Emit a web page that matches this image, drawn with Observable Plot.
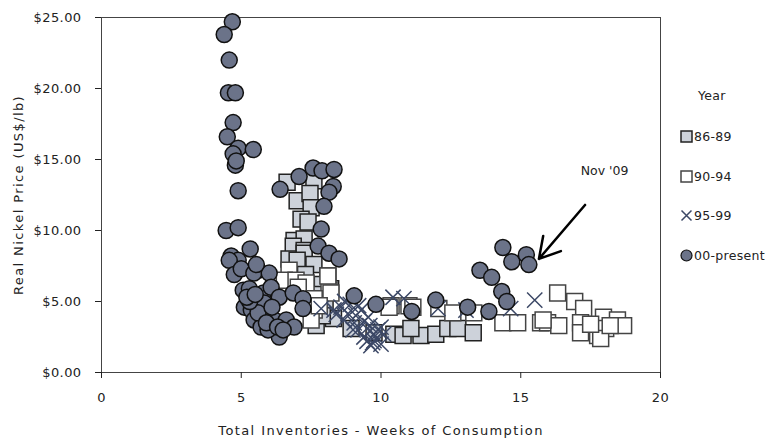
<!DOCTYPE html>
<html><head><meta charset="utf-8">
<script src="https://cdn.jsdelivr.net/npm/d3@7"></script>
<script src="https://cdn.jsdelivr.net/npm/@observablehq/plot@0.6"></script>
<style>
body{margin:0;background:#fff;}
#wrap{position:relative;width:780px;height:442px;font-family:"DejaVu Sans",sans-serif;}
#legend{position:absolute;left:0;top:0;width:780px;height:442px;pointer-events:none;font-size:12.5px;color:#222;letter-spacing:0.3px;}
.li{position:absolute;display:flex;align-items:center;white-space:nowrap;}
svg [aria-label="x-axis label"] text, svg [aria-label="y-axis label"] text{letter-spacing:1.4px;}
svg [aria-label="x-axis tick label"] text, svg [aria-label="y-axis tick label"] text{letter-spacing:0.4px;}
</style></head><body>
<div id="wrap"><div id="chart"></div><div id="legend"></div></div>
<script>
// ---- data ----
const xTicks = [0, 5, 10, 15, 20];
const yTicks = [0, 5, 10, 15, 20, 25];
const xLabel = "Total Inventories - Weeks of Consumption";
const yLabel = "Real Nickel Price (US$/lb)";
const legendTitle = "Year";
const seriesNames = ["86-89", "90-94", "95-99", "00-present"];

const s8689 = [[6.64,13.4],[7.6,13.5],[7.0,12.1],[7.46,12.6],[7.5,11.6],[7.14,10.8],[7.39,10.6],[6.89,9.3],[7.25,9.4],[6.86,8.9],[7.25,8.6],[6.71,8.0],[7.25,8.4],[7.0,7.9],[7.6,7.6],[8.1,6.8],[7.9,6.2],[7.3,6.9],[8.2,5.9],[7.7,5.5],[8.0,5.0],[7.68,3.3],[8.93,3.1],[9.75,2.8],[10.46,2.7],[10.79,2.6],[11.43,2.6],[11.07,3.1],[11.96,2.7],[12.39,3.1],[12.75,3.1],[13.3,2.8],[8.3,3.8],[7.9,4.0]];
const s9094 = [[6.71,7.2],[6.54,6.5],[6.96,6.5],[7.32,6.3],[7.04,6.0],[8.14,5.8],[8.21,5.6],[7.61,5.2],[7.61,4.4],[7.5,3.7],[7.79,4.7],[8.1,6.8],[10.36,4.7],[11.0,4.7],[10.29,4.6],[11.14,4.6],[12.07,4.5],[12.57,4.2],[13.32,4.2],[14.36,3.5],[14.89,3.5],[15.71,3.5],[15.96,3.5],[16.36,3.3],[16.32,5.6],[16.93,5.0],[17.25,4.5],[17.14,3.5],[17.14,2.8],[17.75,2.6],[17.96,3.9],[18.04,3.1],[18.46,3.7],[18.68,3.3],[17.86,2.4],[15.8,3.7],[17.5,3.4],[18.2,3.3]];
const s9599 = [[7.86,4.5],[8.32,4.4],[8.57,4.6],[8.82,4.15],[9.29,4.4],[8.68,3.7],[9.04,3.5],[9.54,3.9],[9.39,2.5],[9.75,2.25],[10.0,2.0],[9.64,1.9],[9.89,3.0],[10.1,2.7],[9.18,3.0],[8.9,4.8],[9.1,4.0],[9.6,3.3],[9.4,3.6],[9.8,2.6],[9.6,2.9],[8.4,4.1],[9.2,4.7],[10.0,3.2],[9.7,2.1],[10.43,5.3],[10.82,5.2],[12.04,4.5],[13.04,4.4],[14.64,4.5],[15.5,5.1],[8.7,5.0],[9.0,3.0],[9.5,2.2]];
const s00 = [[4.68,24.7],[4.39,23.8],[4.57,22.0],[4.54,19.7],[4.79,19.7],[4.71,17.6],[4.50,16.6],[4.89,15.8],[4.71,15.4],[5.43,15.7],[4.79,14.6],[4.82,14.9],[4.89,12.8],[4.46,10.0],[4.89,10.2],[6.39,12.9],[7.07,13.8],[7.57,14.4],[7.89,14.2],[8.32,14.3],[8.29,13.1],[8.14,12.7],[7.96,11.7],[7.86,10.1],[7.75,8.9],[8.14,8.4],[8.50,8.0],[4.64,8.2],[5.32,8.7],[4.89,7.9],[4.57,7.9],[4.75,6.9],[5.00,7.3],[5.60,7.2],[5.45,7.0],[6.00,7.0],[5.54,7.6],[5.07,5.8],[5.29,5.9],[5.79,5.6],[6.07,6.0],[6.36,5.3],[6.86,5.6],[7.21,5.2],[7.21,4.5],[5.11,4.6],[5.36,4.4],[5.82,4.9],[6.0,4.15],[5.46,3.7],[5.71,3.2],[6.18,3.7],[6.61,3.7],[6.89,3.2],[6.36,2.5],[5.96,3.0],[5.6,4.2],[5.3,5.0],[5.9,3.5],[6.3,3.2],[5.2,5.3],[5.5,5.5],[6.1,4.6],[6.5,3.0],[9.04,5.4],[9.82,4.8],[11.1,4.3],[11.96,5.1],[13.1,4.6],[13.86,4.3],[14.36,8.8],[14.68,7.8],[15.2,8.3],[15.29,7.6],[13.54,7.2],[13.96,6.7],[14.32,5.7],[14.5,5.0]];

const noteText = "Nov '09";
const notePos = [[18.0, 14.2]];
const arrowSeg = [{x1: 17.3, y1: 11.8, x2: 15.65, y2: 8.0}];

// ---- styles ----
const styles = [
  {symbol:"square", fill:"#cdd2da", stroke:"#222", r:9, sw:1.5},
  {symbol:"square", fill:"#ffffff", stroke:"#444", r:9, sw:1.5},
  {symbol:"times", fill:"none", stroke:"#3c4866", r:7, sw:1.5},
  {symbol:"circle", fill:"#6b7389", stroke:"#111", r:8, sw:1.5}
];
const seriesData = [s8689, s9094, s9599, s00];

const chart = Plot.plot({
  width: 780, height: 442,
  marginLeft: 101, marginRight: 120, marginTop: 17, marginBottom: 70,
  x: {domain: [0, 20]},
  y: {domain: [0, 25]},
  style: {fontFamily: "DejaVu Sans, sans-serif", fontSize: "13px", color: "#222", background: "white"},
  marks: [
    Plot.frame({stroke: "#444"}),
    Plot.axisX({ticks: xTicks, tickSize: 6, tickPadding: 14, label: xLabel, labelAnchor: "center", labelArrow: "none", labelOffset: 62, tickFormat: d => String(d)}),
    Plot.axisY({ticks: yTicks, tickSize: 6, tickPadding: 14, tickFormat: d => "$" + d.toFixed(2), label: yLabel, labelAnchor: "center", labelArrow: "none", labelOffset: 88}),
    ...seriesData.map((data, i) => Plot.dot(data, {
      x: d => d[0], y: d => d[1], symbol: () => styles[i].symbol, r: styles[i].r,
      fill: styles[i].fill, stroke: styles[i].stroke, strokeWidth: styles[i].sw, fillOpacity: 1
    })),
    Plot.arrow(arrowSeg, {x1: "x1", y1: "y1", x2: "x2", y2: "y2", stroke: "black", strokeWidth: 2.5, headLength: 14}),
    Plot.text(notePos, {x: d => d[0], y: d => d[1], text: () => noteText, fontSize: 12.5, fill: "#222"})
  ]
});
document.getElementById("chart").appendChild(chart);

// ---- legend ----
const leg = document.getElementById("legend");
const t = document.createElement("div");
t.className = "li"; t.style.left = "698px"; t.style.top = "88px"; t.textContent = legendTitle;
leg.appendChild(t);
const symSvg = (s) => {
  if (s.symbol === "square") return `<svg width="13" height="13"><rect x="1" y="1" width="11" height="11" fill="${s.fill}" stroke="${s.stroke}" stroke-width="1.5"/></svg>`;
  if (s.symbol === "times") return `<svg width="13" height="13"><path d="M1.5,1.5L11.5,11.5M11.5,1.5L1.5,11.5" stroke="${s.stroke}" stroke-width="1.5"/></svg>`;
  return `<svg width="13" height="13"><circle cx="6.5" cy="6.5" r="5.5" fill="${s.fill}" stroke="${s.stroke}" stroke-width="1.2"/></svg>`;
};
seriesNames.forEach((name, i) => {
  const d = document.createElement("div");
  d.className = "li";
  d.style.left = "680px";
  d.style.top = (129 + i * 39.6) + "px";
  d.innerHTML = symSvg(styles[i]) + `<span style="margin-left:1px">${name}</span>`;
  leg.appendChild(d);
});
</script>
</body></html>
